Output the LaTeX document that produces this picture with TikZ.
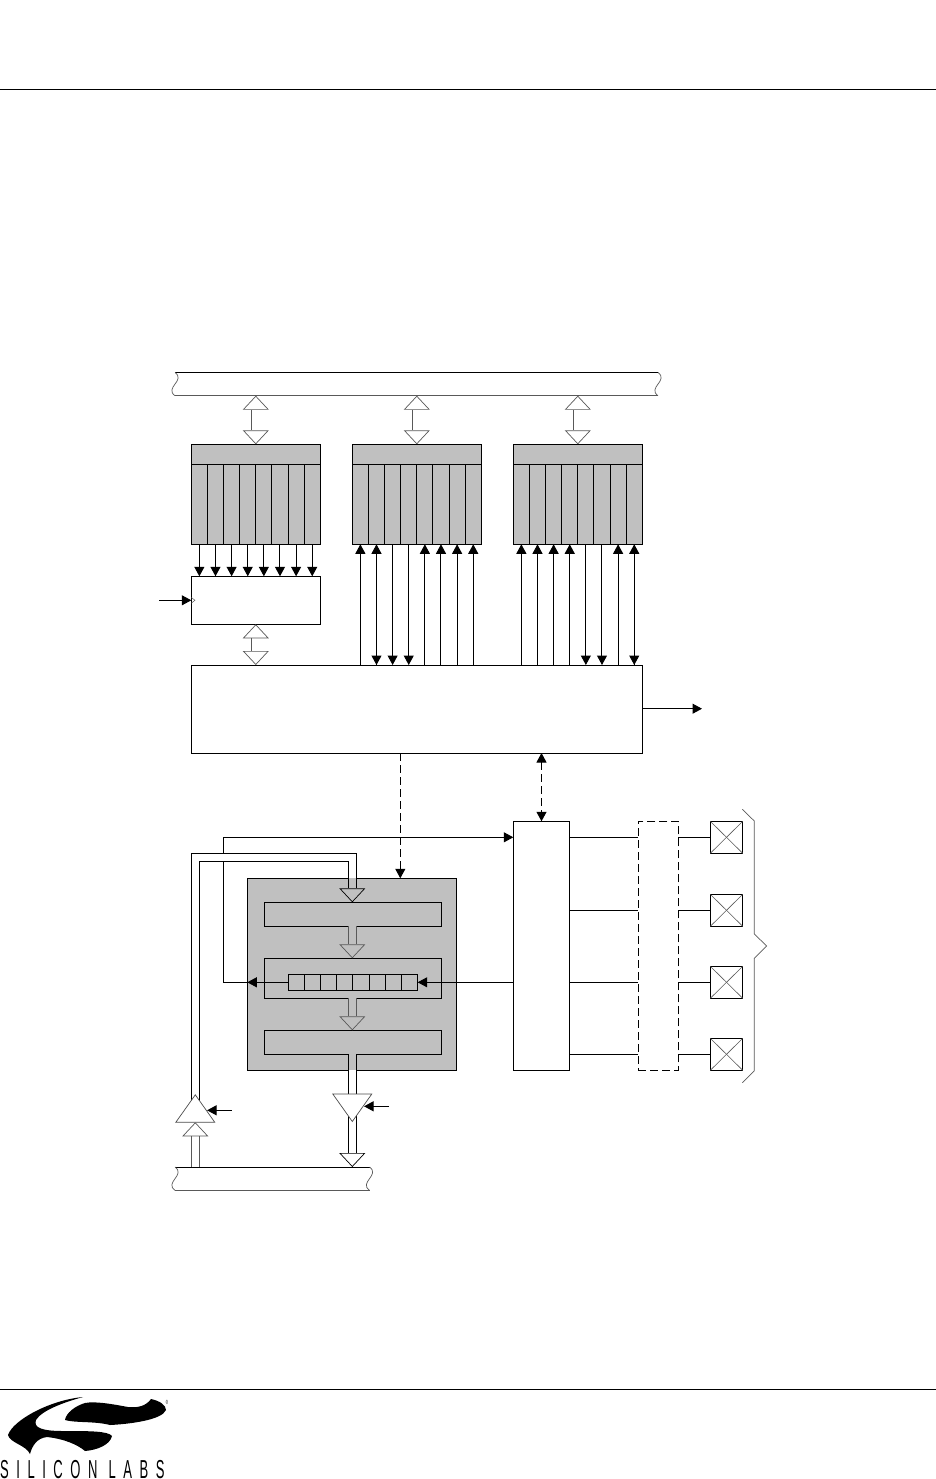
\documentclass[tikz,border=0pt]{standalone}
\usepackage{fontspec}
\usetikzlibrary{arrows.meta,shapes.geometric}
\newfontfamily\brandfont[FakeStretch=0.5,LetterSpace=29]{Liberation Sans}
\definecolor{sfrgray}{HTML}{C0C0C0}
\tikzset{
  box/.style 2 args={draw,line width=1pt,inner sep=0,outer sep=0,anchor=north west,minimum width=#1,minimum height=#2},
  lane/.style 2 args={inner sep=0,outer sep=0,anchor=north west,minimum width=#1,minimum height=#2},
  wire/.style={line width=1pt,>={Triangle[length=9.5pt,width=10pt]}},
  hairline/.style={draw=black!65,line width=.7pt},
  widewire/.style={line width=1pt,double=white,double distance=7pt},
  grayfill/.style={double=sfrgray},
  widetip/.tip={Triangle[open,fill=white,length=14pt,width=26pt,line width=.7pt]},
  graytip/.tip={Triangle[open,fill=sfrgray,length=14pt,width=26pt,line width=.7pt]},
  buffer/.style={draw=black!70,line width=.7pt,fill=white,isosceles triangle,isosceles triangle stretches,inner sep=0,outer sep=0,minimum width=39pt,minimum height=27.5pt,anchor=lower side},
}
\begin{document}
\begin{tikzpicture}[x=1pt,y=-1pt]
\useasboundingbox (0,0) rectangle (936,1479);
% page rules
\draw[line width=1pt] (0,89.5) -- (936,89.5);
\draw[line width=1pt] (0,1389) -- (936,1389);

% top bus
\node[lane={483}{23.2}] (busTop) at (175,372.5) {};
\draw[line width=1pt] (busTop.north west) -- (busTop.north east);
\draw[hairline] (busTop.south west) -- (busTop.south east);
\foreach \e in {west,east}
  \draw[hairline] (busTop.north \e) .. controls +(11,8) and +(-11,-8) .. (busTop.south \e);

% port latches
\foreach \p/\xa in {A/191.3,B/352.3,C/513.3} {
  \node[box={129}{20},fill=sfrgray] (head\p) at (\xa,444.3) {};
  \foreach \i in {1,...,8}
    \node[box={16.125}{80},fill=sfrgray] (\p\i) at ({\xa+16.125*(\i-1)},464.3) {};
  \draw[hairline,double=white,double distance=7.5pt,{widetip}-{widetip}] (busTop.south -| head\p.north) -- (head\p.north);
}

% crossbar and priority decoder
\node[box={129}{48}] (decode) at (191.3,576.3) {};
\node[box={451}{88}] (crossbar) at (191.3,665) {};
\foreach \i in {1,...,8}
  \draw[wire,->] (A\i.south) -- (A\i.south |- decode.north);
\coordinate (clock) at (159,600.3);
\draw[wire,->] (clock) -- (clock -| decode.west);
\draw[hairline,line width=.5pt] (191.3,597.5) -- (195,600.3) -- (191.3,603.1);
\draw[hairline,double=white,double distance=7.5pt,{widetip}-{widetip}] (decode.south) -- (decode.south |- crossbar.north);
\foreach \i in {1,2,5,6,7,8}
  \draw[wire,->] (B\i.south |- crossbar.north) -- (B\i.south);
\foreach \i in {2,3,4}
  \draw[wire,->] (B\i.south) -- (B\i.south |- crossbar.north);
\foreach \i in {1,2,3,4,7,8}
  \draw[wire,->] (C\i.south |- crossbar.north) -- (C\i.south);
\foreach \i in {5,6,8}
  \draw[wire,->] (C\i.south) -- (C\i.south |- crossbar.north);
\coordinate (out) at (702,708.7);
\draw[wire,->] (crossbar.east |- out) -- (out);

% FIFO block
\node[box={209}{192},fill=sfrgray] (fifo) at (247.3,878.3) {};
\node[box={177.4}{24}] (fifoTop) at (264.3,902.3) {};
\node[box={177.4}{40}] (fifoMid) at (264.3,958.3) {};
\node[box={177.4}{24}] (fifoLow) at (264.3,1030.3) {};
\foreach \i in {1,...,8}
  \node[box={16.17}{16}] (cell\i) at ({288.3+16.17*(\i-1)},974.3) {};
\coordinate (inlet) at (352.3,878.3);
\coordinate (outlet) at (352.3,1070.3);
\draw[wire,dash pattern=on 8pt off 4pt,->] (400.3,753.3) -- (400.3,878.3);
\draw[widewire,grayfill,-{graytip}] (inlet) -- (inlet |- fifoTop.north);
\draw[hairline,double=sfrgray,double distance=7.5pt,-{graytip}] (inlet |- fifoTop.south) -- (inlet |- fifoMid.north);
\draw[hairline,double=sfrgray,double distance=7.5pt,-{graytip}] (inlet |- fifoMid.south) -- (inlet |- fifoLow.north);
\draw[widewire,grayfill] (inlet |- fifoLow.south) -- (outlet);

% port bank pins
\node[box={56.4}{249}] (ports) at (513.3,821.3) {};
\node[box={40}{249},dash pattern=on 8pt off 4pt] (mux) at (638.3,821.3) {};
\draw[wire,dash pattern=on 8pt off 4pt,<->] (crossbar.south -| ports.north) -- (ports.north);
\foreach \n/\y in {1/821.3,2/894.3,3/966.3,4/1038.3} {
  \node[box={32.4}{32}] (pad\n) at (710.3,\y) {};
  \draw[hairline,line width=.6pt] (pad\n.north west) -- (pad\n.south east);
  \draw[hairline,line width=.6pt] (pad\n.north east) -- (pad\n.south west);
  \draw[wire] (ports.east |- pad\n.west) -- (mux.west |- pad\n.west);
  \draw[wire] (mux.east |- pad\n.west) -- (pad\n.west);
}
\draw[hairline] (742.3,809.3) -- (754.3,821) -- (754.3,934) -- (766.7,946) -- (754.3,958.3) -- (754.3,1070.7) -- (742.3,1082.7);

\draw[wire,->] (ports.west |- cell8.east) -- (cell8.east);
\coordinate (turn) at (223.3,837.3);
\draw[wire,->] (cell1.west) -- (fifo.west |- cell1.west);
\draw[wire,->] (fifo.west |- cell1.west) -| (turn) -- (turn -| ports.west);

% bottom bus and buffers
\node[lane={194.5}{23.3}] (busLow) at (175,1167) {};
\draw[line width=1pt] (busLow.north west) -- (busLow.north east);
\draw[hairline] (busLow.south west) -- (busLow.south east);
\foreach \e in {west,east}
  \draw[hairline] (busLow.north \e) .. controls +(11,8) and +(-11,-8) .. (busLow.south \e);
\coordinate (upBase) at (195.3,1122.3);
\coordinate (downBase) at (352.3,1094);
\draw[widewire] (upBase) |- (352.3,857.8) -- (inlet);
\draw[hairline,double=white,double distance=7.5pt,-{widetip}] (busLow.north -| upBase) -- (upBase);
\draw[widewire,-{widetip}] (outlet) -- (outlet |- busLow.north);
\node[buffer,shape border rotate=90] (bufUp) at (upBase) {};
\node[buffer,shape border rotate=270] (bufDown) at (downBase) {};
\coordinate (enUp) at (231.7,1110.3);
\coordinate (enDown) at (389,1106.3);
\draw[wire,->,shorten >=2pt] (enUp) -- (enUp -| bufUp.right side);
\draw[wire,->,shorten >=2pt] (enDown) -- (enDown -| bufDown.left side);

% logo
\fill (83,1397) .. controls (50,1400) and (13,1420) .. (8,1435) .. controls (10,1443) and (26,1445) .. (30,1454)
  .. controls (32,1446) and (37,1438) .. (47,1437) .. controls (65,1439) and (78,1445) .. (85,1451)
  .. controls (97,1450) and (110,1445) .. (112,1436) .. controls (108,1431) and (90,1431) .. (63,1431)
  .. controls (43,1431) and (33,1428) .. (36,1420) .. controls (42,1410) and (65,1402) .. (83,1397) -- cycle;
\fill (151,1399) .. controls (146,1406) and (138,1408) .. (128,1407) .. controls (112,1404) and (95,1401) .. (85,1403)
  .. controls (75,1406) and (66,1413) .. (65,1420) .. controls (75,1423) and (95,1421) .. (110,1425)
  .. controls (130,1424) and (162,1420) .. (166,1410) .. controls (166,1405) and (160,1401) .. (151,1399) -- cycle;
\node[inner sep=0,anchor=center,font=\fontsize{6}{6}\brandfont] (reg) at (167,1402) {®};
\node[inner sep=0,anchor=base west,font=\fontsize{26}{26}\brandfont] (brand) at (0,1478) {SILICON LABS};
\end{tikzpicture}
\end{document}
